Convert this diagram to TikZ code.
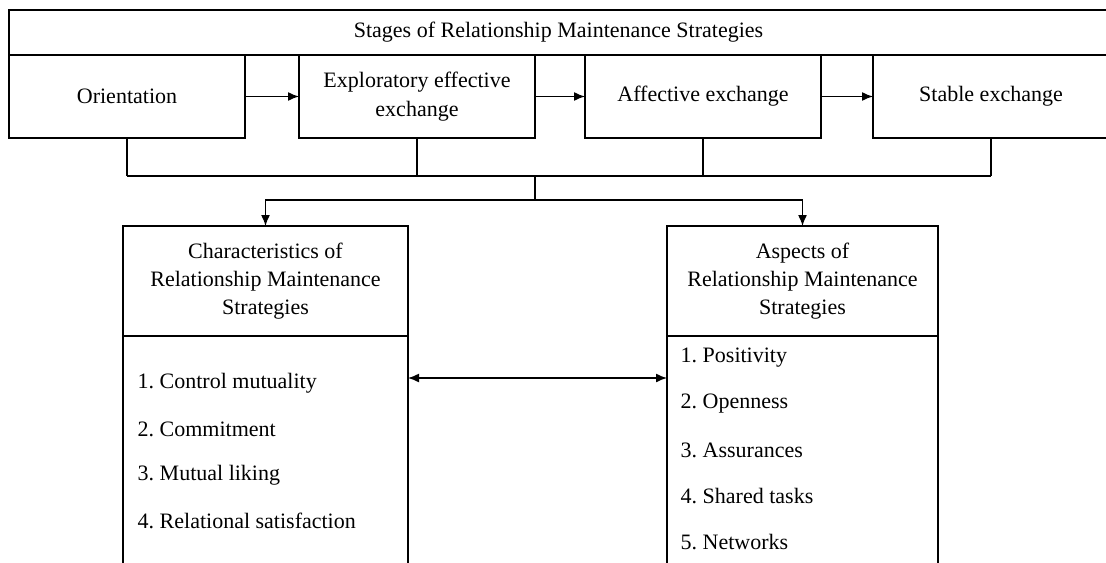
\documentclass[tikz,border=0pt]{standalone}
\usepackage{fontspec}
\setmainfont{Liberation Serif}
\frenchspacing
\usetikzlibrary{arrows.meta}
\tikzset{
  >={Latex[length=5.5pt,width=4.5pt]},
  stagebox/.style={draw, line width=0.7pt, anchor=north west, outer sep=0pt, minimum width=118pt, minimum height=41.5pt, align=center, inner sep=2pt, font=\fontsize{11}{14.5}\selectfont},
  headbox/.style={draw, line width=0.7pt, anchor=north west, outer sep=0pt, minimum height=55pt, align=center, inner sep=2pt, font=\fontsize{11}{14}\selectfont},
  listbox/.style={draw, line width=0.7pt, anchor=north west, outer sep=0pt, minimum height=140pt},
  item/.style={anchor=west, inner sep=0pt, font=\fontsize{11}{14}\selectfont}
}
\begin{document}
\begin{tikzpicture}[x=0.5pt, y=-0.5pt, line width=0.7pt]
  \useasboundingbox (0,0) rectangle (1106,562);
  \fill[white] (0,0) rectangle (1106,562);
  \clip (0,0) rectangle (1106,562);
  % top row
  \node[draw, anchor=north west, outer sep=0pt, minimum width=549.5pt, minimum height=22.5pt, inner sep=0pt, font=\fontsize{11}{14}\selectfont] (stages) at (9,10) {Stages of Relationship Maintenance Strategies};
  \node[stagebox] (orient) at (9,55) {Orientation};
  \node[stagebox] (explor) at (299,55) {Exploratory effective\\exchange};
  \node[stagebox] (affect) at (585,55) {Affective exchange};
  \node[stagebox] (stable) at (873,55) {Stable exchange};
  \draw[->] (orient) -- (explor);
  \draw[->] (explor) -- (affect);
  \draw[->] (affect) -- (stable);
  % joining lines
  \coordinate (join) at (535,176);
  \coordinate (split) at (535,200);
  \foreach \n in {orient,explor,affect,stable} \draw (\n.south) -- (\n.south |- join);
  \draw (orient.south |- join) -- (stable.south |- join);
  \draw (join) -- (split);
  % lower boxes
  \node[headbox, minimum width=142.5pt] (chhead) at (123,226) {Characteristics of\\Relationship Maintenance\\Strategies};
  \node[listbox, minimum width=142.5pt] (chbody) at (chhead.south west) {};
  \node[headbox, minimum width=135.5pt] (ashead) at (667,226) {Aspects of\\Relationship Maintenance\\Strategies};
  \node[listbox, minimum width=135.5pt] (asbody) at (ashead.south west) {};
  \draw[->] (split) -| (chhead.north);
  \draw[->] (split) -| (ashead.north);
  \foreach \t [count=\i] in {Control mutuality, Commitment, Mutual liking, Relational satisfaction}
    \node[item] (ch\i) at (137,337+46*\i) {\i. \t};
  \foreach \t [count=\i] in {Positivity, Openness, Assurances, Shared tasks, Networks}
    \node[item] (as\i) at (680,312+46*\i) {\i. \t};
  \coordinate (mid) at (537,378);
  \draw[<->] (chbody.east |- mid) -- (asbody.west |- mid);
\end{tikzpicture}
\end{document}
